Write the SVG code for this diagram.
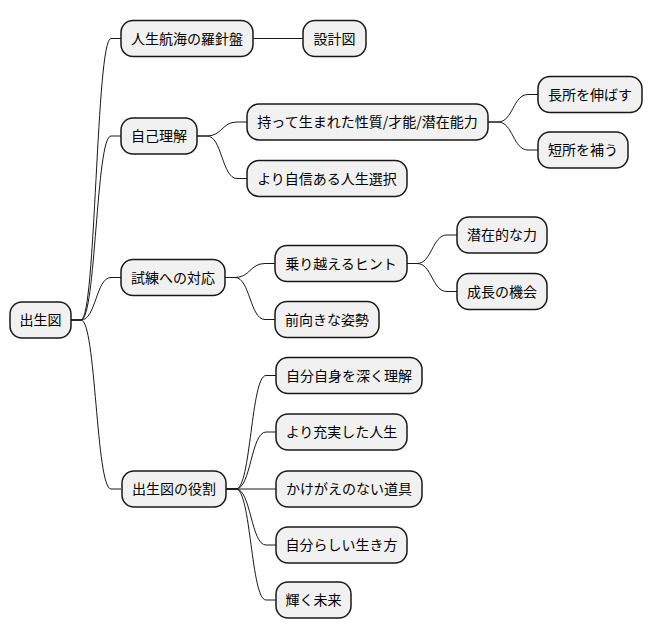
<svg xmlns="http://www.w3.org/2000/svg" width="652" height="640" viewBox="0 0 652 640">
<style>
.n rect{fill:#f1f1f1;stroke:#181818;stroke-width:1.5}
.n text{font-family:"Noto Sans CJK JP","Noto Sans",sans-serif;font-size:14px;fill:#000;text-anchor:middle}
.e path{fill:none;stroke:#181818;stroke-width:1}
</style>
<rect width="652" height="640" fill="#fff"/>
<g class="e">
<path d="M71 320 L81 320 C96 320 96 38.5 111 38.5 L121 38.5"/>
<path d="M71 320 L81 320 C96 320 96 136 111 136 L121 136"/>
<path d="M71 320 L81 320 C96 320 96 277.5 111 277.5 L121 277.5"/>
<path d="M71 320 L81 320 C96 320 96 489 111 489 L121 489"/>
<path d="M253 38.5 L303 38.5"/>
<path d="M197 136 L207 136 C222 136 222 122 237 122 L247 122"/>
<path d="M197 136 L207 136 C222 136 222 178.5 237 178.5 L247 178.5"/>
<path d="M488 122 L498 122 C513 122 513 94.5 528 94.5 L538 94.5"/>
<path d="M488 122 L498 122 C513 122 513 150 528 150 L538 150"/>
<path d="M225 277.5 L235 277.5 C250 277.5 250 263.5 265 263.5 L275 263.5"/>
<path d="M225 277.5 L235 277.5 C250 277.5 250 319.5 265 319.5 L275 319.5"/>
<path d="M407 263.5 L417 263.5 C432 263.5 432 235 447 235 L457 235"/>
<path d="M407 263.5 L417 263.5 C432 263.5 432 291.5 447 291.5 L457 291.5"/>
<path d="M226 489 L236 489 C251 489 251 375.5 266 375.5 L276 375.5"/>
<path d="M226 489 L236 489 C251 489 251 432 266 432 L276 432"/>
<path d="M226 489 L276 489"/>
<path d="M226 489 L236 489 C251 489 251 545 266 545 L276 545"/>
<path d="M226 489 L236 489 C251 489 251 600 266 600 L276 600"/>
</g>
<g id="root" class="n"><rect x="10" y="302" width="61" height="36" rx="12"/><text x="40.5" y="325">出生図</text></g>
<g id="n1" class="n"><rect x="121" y="20.5" width="132" height="36" rx="12"/><text x="187" y="43.5">人生航海の羅針盤</text></g>
<g id="n1a" class="n"><rect x="303" y="20.5" width="63" height="36" rx="12"/><text x="334.5" y="43.5">設計図</text></g>
<g id="n2" class="n"><rect x="121" y="118" width="76" height="36" rx="12"/><text x="159" y="141">自己理解</text></g>
<g id="n2a" class="n"><rect x="247" y="104" width="241" height="36" rx="12"/><text x="367.5" y="127">持って生まれた性質/才能/潜在能力</text></g>
<g id="n2a1" class="n"><rect x="538" y="76.5" width="104" height="36" rx="12"/><text x="590" y="99.5">長所を伸ばす</text></g>
<g id="n2a2" class="n"><rect x="538" y="132" width="90" height="36" rx="12"/><text x="583" y="155">短所を補う</text></g>
<g id="n2b" class="n"><rect x="247" y="160.5" width="160" height="36" rx="12"/><text x="327" y="183.5">より自信ある人生選択</text></g>
<g id="n3" class="n"><rect x="121" y="259.5" width="104" height="36" rx="12"/><text x="173" y="282.5">試練への対応</text></g>
<g id="n3a" class="n"><rect x="275" y="245.5" width="132" height="36" rx="12"/><text x="341" y="268.5">乗り越えるヒント</text></g>
<g id="n3a1" class="n"><rect x="457" y="217" width="90" height="36" rx="12"/><text x="502" y="240">潜在的な力</text></g>
<g id="n3a2" class="n"><rect x="457" y="273.5" width="90" height="36" rx="12"/><text x="502" y="296.5">成長の機会</text></g>
<g id="n3b" class="n"><rect x="275" y="301.5" width="104" height="36" rx="12"/><text x="327" y="324.5">前向きな姿勢</text></g>
<g id="n4" class="n"><rect x="122" y="471" width="104" height="36" rx="12"/><text x="174" y="494">出生図の役割</text></g>
<g id="n4a" class="n"><rect x="276" y="357.5" width="146" height="36" rx="12"/><text x="349" y="380.5">自分自身を深く理解</text></g>
<g id="n4b" class="n"><rect x="276" y="414" width="131" height="36" rx="12"/><text x="341.5" y="437">より充実した人生</text></g>
<g id="n4c" class="n"><rect x="276" y="471" width="146" height="36" rx="12"/><text x="349" y="494">かけがえのない道具</text></g>
<g id="n4d" class="n"><rect x="276" y="527" width="131" height="36" rx="12"/><text x="341.5" y="550">自分らしい生き方</text></g>
<g id="n4e" class="n"><rect x="276" y="582" width="75" height="36" rx="12"/><text x="313.5" y="605">輝く未来</text></g>
</svg>
